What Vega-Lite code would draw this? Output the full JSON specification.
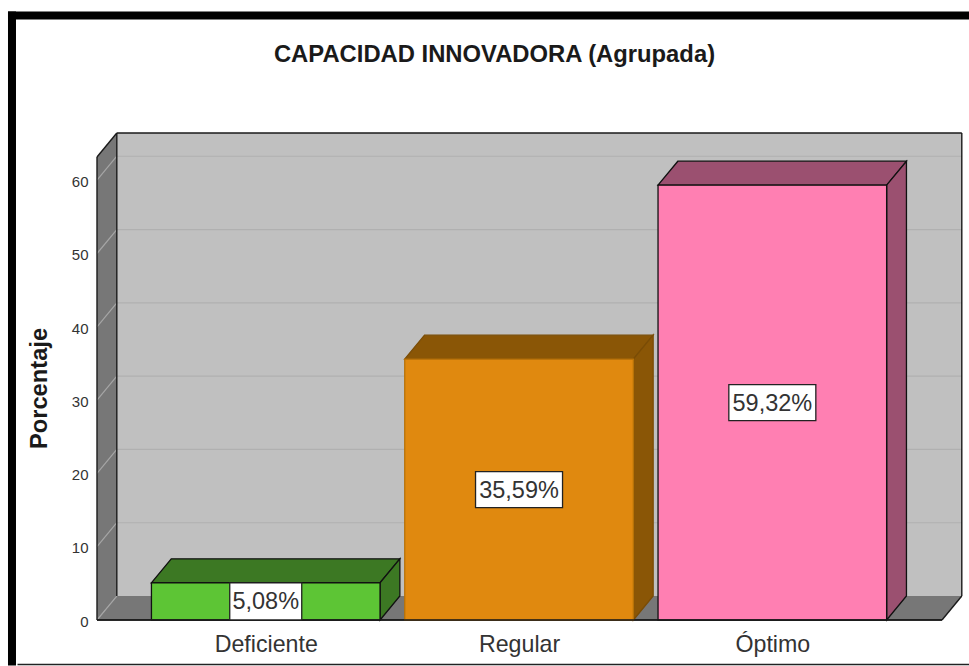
{"$schema":"https://vega.github.io/schema/vega-lite/v6.json","width":865,"height":487,"autosize":"none","padding":{"left":97,"top":133,"right":7,"bottom":46},"background":"white","config":{"view":{"stroke":null},"font":"Liberation Sans"},
"title":{"text":"CAPACIDAD INNOVADORA (Agrupada)","font":"Liberation Sans","fontSize":23.8,"fontWeight":"bold","color":"#1a1a1a","anchor":"middle","offset":-71,"dx":-35},
"resolve":{"scale":{"fill":"independent","stroke":"independent"}},
"datasets":{
"barras":[{"categoria":"Deficiente","pos":1,"porcentaje":5.08,"etiqueta":"5,08%"},{"categoria":"Regular","pos":2,"porcentaje":35.59,"etiqueta":"35,59%"},{"categoria":"Óptimo","pos":3,"porcentaje":59.32,"etiqueta":"59,32%"}],
"fondo":[
{"cara":"pared izquierda","x":0.3338,"y0":0,"y1":63.17},{"cara":"pared izquierda","x":0.412,"y0":3.27,"y1":66.44},
{"cara":"pared fondo","x":0.412,"y0":3.27,"y1":66.44},{"cara":"pared fondo","x":3.748,"y0":3.27,"y1":66.44},
{"cara":"suelo","x":0.3338,"y0":0,"y1":0},{"cara":"suelo","x":0.412,"y0":0,"y1":3.27},{"cara":"suelo","x":3.6698,"y0":0,"y1":3.27},{"cara":"suelo","x":3.748,"y0":3.27,"y1":3.27}],
"rejilla":[
{"linea":"f10","tipo":"fondo","x":0.412,"y":13.27},{"linea":"f10","tipo":"fondo","x":3.748,"y":13.27},
{"linea":"f20","tipo":"fondo","x":0.412,"y":23.27},{"linea":"f20","tipo":"fondo","x":3.748,"y":23.27},
{"linea":"f30","tipo":"fondo","x":0.412,"y":33.27},{"linea":"f30","tipo":"fondo","x":3.748,"y":33.27},
{"linea":"f40","tipo":"fondo","x":0.412,"y":43.27},{"linea":"f40","tipo":"fondo","x":3.748,"y":43.27},
{"linea":"f50","tipo":"fondo","x":0.412,"y":53.27},{"linea":"f50","tipo":"fondo","x":3.748,"y":53.27},
{"linea":"f60","tipo":"fondo","x":0.412,"y":63.27},{"linea":"f60","tipo":"fondo","x":3.748,"y":63.27},
{"linea":"i0","tipo":"lateral","x":0.3338,"y":0},{"linea":"i0","tipo":"lateral","x":0.412,"y":3.27},
{"linea":"i10","tipo":"lateral","x":0.3338,"y":10},{"linea":"i10","tipo":"lateral","x":0.412,"y":13.27},
{"linea":"i20","tipo":"lateral","x":0.3338,"y":20},{"linea":"i20","tipo":"lateral","x":0.412,"y":23.27},
{"linea":"i30","tipo":"lateral","x":0.3338,"y":30},{"linea":"i30","tipo":"lateral","x":0.412,"y":33.27},
{"linea":"i40","tipo":"lateral","x":0.3338,"y":40},{"linea":"i40","tipo":"lateral","x":0.412,"y":43.27},
{"linea":"i50","tipo":"lateral","x":0.3338,"y":50},{"linea":"i50","tipo":"lateral","x":0.412,"y":53.27},
{"linea":"i60","tipo":"lateral","x":0.3338,"y":60},{"linea":"i60","tipo":"lateral","x":0.412,"y":63.27}],
"bordes":[
{"b":"a","x":0.3338,"y":0},{"b":"a","x":3.6698,"y":0},{"b":"a2","x":3.6698,"y":0},{"b":"a2","x":3.748,"y":3.27},
{"b":"c","x":3.748,"y":3.27},{"b":"c","x":3.748,"y":66.44},{"b":"d","x":3.748,"y":66.44},{"b":"d","x":0.412,"y":66.44},
{"b":"e","x":0.412,"y":66.44},{"b":"e","x":0.412,"y":3.27},{"b":"f","x":0.412,"y":66.44},{"b":"f","x":0.3338,"y":63.17},
{"b":"g","x":0.3338,"y":63.17},{"b":"g","x":0.3338,"y":0}],
"caras":[
{"categoria":"Deficiente","cara":"superior","x":0.5487,"y0":5.08,"y1":5.08},{"categoria":"Deficiente","cara":"superior","x":0.6269,"y0":5.08,"y1":8.35},{"categoria":"Deficiente","cara":"superior","x":1.4513,"y0":5.08,"y1":8.35},{"categoria":"Deficiente","cara":"superior","x":1.5295,"y0":8.35,"y1":8.35},
{"categoria":"Deficiente","cara":"lateral","x":1.4513,"y0":0,"y1":5.08},{"categoria":"Deficiente","cara":"lateral","x":1.5295,"y0":3.27,"y1":8.35},
{"categoria":"Regular","cara":"superior","x":1.5487,"y0":35.59,"y1":35.59},{"categoria":"Regular","cara":"superior","x":1.6269,"y0":35.59,"y1":38.86},{"categoria":"Regular","cara":"superior","x":2.4513,"y0":35.59,"y1":38.86},{"categoria":"Regular","cara":"superior","x":2.5295,"y0":38.86,"y1":38.86},
{"categoria":"Regular","cara":"lateral","x":2.4513,"y0":0,"y1":35.59},{"categoria":"Regular","cara":"lateral","x":2.5295,"y0":3.27,"y1":38.86},
{"categoria":"Óptimo","cara":"superior","x":2.5487,"y0":59.32,"y1":59.32},{"categoria":"Óptimo","cara":"superior","x":2.6269,"y0":59.32,"y1":62.59},{"categoria":"Óptimo","cara":"superior","x":3.4513,"y0":59.32,"y1":62.59},{"categoria":"Óptimo","cara":"superior","x":3.5295,"y0":62.59,"y1":62.59},
{"categoria":"Óptimo","cara":"lateral","x":3.4513,"y0":0,"y1":59.32},{"categoria":"Óptimo","cara":"lateral","x":3.5295,"y0":3.27,"y1":62.59}],
"marco":[
{"b":"izq","x":-0.0018,"y":83},{"b":"izq","x":-0.0018,"y":-6.2},
{"b":"sup","x":-0.0176,"y":82.47},{"b":"sup","x":3.78,"y":82.47}],
"marcoInf":[{"x":0.02,"y":-6.07},{"x":3.78,"y":-6.07}]
},
"encoding":{
"x":{"field":"x","type":"quantitative","scale":{"domain":[0.3338,3.7488],"nice":false,"zero":false,"padding":0},"axis":{"values":[1,2,3],"labelExpr":"datum.value==1?'Deficiente':datum.value==2?'Regular':'Óptimo'","domain":false,"ticks":false,"grid":false,"title":null,"labelFont":"Liberation Sans","labelFontSize":23.2,"labelColor":"#333333","labelPadding":13,"labelFlush":false,"labelOverlap":false}},
"y":{"type":"quantitative","scale":{"domain":[0,66.44],"nice":false,"zero":false,"padding":0},"axis":{"values":[0,10,20,30,40,50,60],"domain":false,"ticks":false,"grid":false,"title":"Porcentaje","titleFont":"Liberation Sans","titleFontSize":23.7,"titleFontWeight":"bold","titleColor":"#1a1a1a","titlePadding":20,"titleY":255,"labelFont":"Liberation Sans","labelFontSize":15,"labelColor":"#333333","labelPadding":9,"labelOffset":1.2,"labelFlush":false,"labelOverlap":false}}
},
"layer":[
{"data":{"name":"fondo"},"mark":{"type":"area","orient":"vertical"},"encoding":{"y":{"field":"y0"},"y2":{"field":"y1"},"detail":{"field":"cara"},"fill":{"field":"cara","type":"nominal","legend":null,"scale":{"domain":["pared fondo","pared izquierda","suelo"],"range":["#C0C0C0","#777777","#777777"]}}}},
{"data":{"name":"rejilla"},"mark":{"type":"line","strokeWidth":1.2},"encoding":{"y":{"field":"y"},"detail":{"field":"linea"},"stroke":{"field":"tipo","type":"nominal","legend":null,"scale":{"domain":["fondo","lateral"],"range":["#B0B0B0","#A6A6A6"]}}}},
{"data":{"name":"bordes"},"mark":{"type":"line","strokeWidth":1.4,"color":"#1a1a1a"},"encoding":{"y":{"field":"y"},"detail":{"field":"b"}}},
{"data":{"name":"caras"},"mark":{"type":"area","orient":"vertical","strokeWidth":1.3},"encoding":{"y":{"field":"y0"},"y2":{"field":"y1"},"detail":[{"field":"categoria"},{"field":"cara"}],
"fill":{"condition":[{"test":"datum.categoria=='Deficiente'","value":"#3C7823"},{"test":"datum.categoria=='Regular'","value":"#8A5606"}],"value":"#9B5070"},
"stroke":{"condition":{"test":"datum.categoria=='Regular'","value":"#7A4C05"},"value":"#111111"}}},
{"data":{"name":"barras"},"mark":{"type":"bar","size":228.6,"strokeWidth":1.3},"encoding":{"x":{"field":"pos","type":"quantitative"},"y":{"field":"porcentaje"},
"fill":{"field":"categoria","type":"nominal","legend":null,"scale":{"domain":["Deficiente","Regular","Óptimo"],"range":["#5DC535","#E0890F","#FF7FB2"]}},
"stroke":{"field":"categoria","type":"nominal","legend":null,"scale":{"domain":["Deficiente","Regular","Óptimo"],"range":["#111111","#B87208","#111111"]}}}},
{"data":{"name":"bordes"},"transform":[{"filter":"datum.b=='a'"}],"mark":{"type":"line","strokeWidth":1.6,"color":"#1a1a1a"},"encoding":{"y":{"field":"y"}}},
{"data":{"name":"barras"},"transform":[{"calculate":"datum.porcentaje/2","as":"centro"},{"filter":"datum.pos==1"}],"mark":{"type":"rect","width":72,"height":37,"fill":"white","stroke":"#222222","strokeWidth":1.3},"encoding":{"x":{"field":"pos","type":"quantitative"},"y":{"field":"centro"}}},
{"data":{"name":"barras"},"transform":[{"calculate":"datum.porcentaje/2","as":"centro"},{"filter":"datum.pos>1"}],"mark":{"type":"rect","width":87,"height":36,"fill":"white","stroke":"#222222","strokeWidth":1.3},"encoding":{"x":{"field":"pos","type":"quantitative"},"y":{"field":"centro"}}},
{"data":{"name":"barras"},"transform":[{"calculate":"datum.porcentaje/2","as":"centro"}],"mark":{"type":"text","font":"Liberation Sans","fontSize":23.5,"color":"#333333","align":"center","baseline":"middle","dy":1},"encoding":{"x":{"field":"pos","type":"quantitative"},"y":{"field":"centro"},"text":{"field":"etiqueta"}}},
{"data":{"name":"marco"},"mark":{"type":"line","strokeWidth":8,"color":"black","clip":false},"encoding":{"y":{"field":"y"},"detail":{"field":"b"}}},
{"data":{"name":"marcoInf"},"mark":{"type":"line","strokeWidth":1.6,"color":"#222222"},"encoding":{"y":{"field":"y"}}}
]}
